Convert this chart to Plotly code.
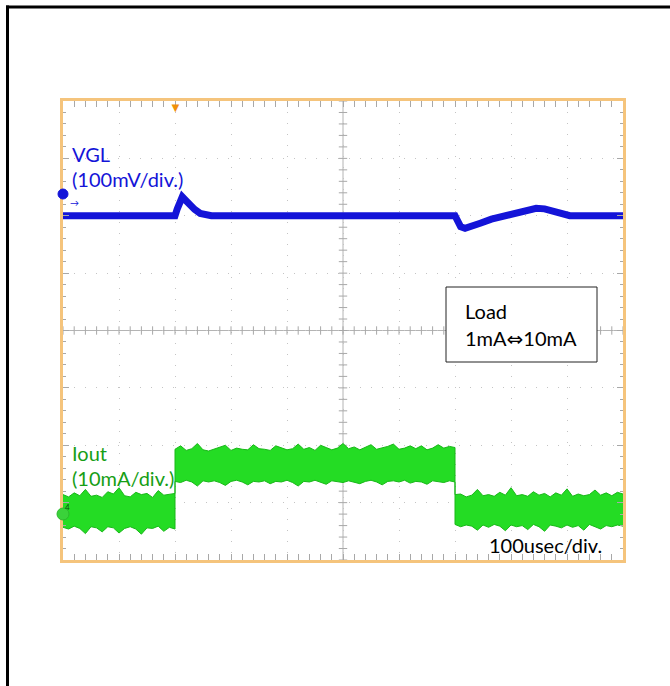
import plotly.graph_objects as go

# ---------------- data ----------------
# time in microseconds (100 usec/div, 10 div)
vgl_t = [0, 200, 204, 208, 213, 218, 225, 235, 245, 255, 265,
         700, 704, 710, 718, 730, 745, 765, 785, 805, 825, 845, 860, 875, 890, 905, 1000]
# VGL deviation from its DC level, mV (100 mV/div)
vgl_mv = [0, 0, 12, 26, 33, 28, 20, 11, 4, 1, 0,
          0, -10, -19, -22, -19, -13, -6, -1, 4, 9, 13, 12, 7, 2, 0, 0]

# Iout noise envelope, mA (10 mA/div)
iout_t = [0, 10, 20, 30, 40, 50, 60, 70, 80, 90, 100, 110, 120, 130, 140, 150, 160, 170, 180, 190, 200,
          200, 210, 220, 230, 240, 250, 260, 270, 280, 290, 300, 310, 320, 330, 340, 350, 360, 370, 380, 390,
          400, 410, 420, 430, 440, 450, 460, 470, 480, 490, 500, 510, 520, 530, 540, 550, 560, 570, 580, 590,
          600, 610, 620, 630, 640, 650, 660, 670, 680, 690, 700,
          700, 710, 720, 730, 740, 750, 760, 770, 780, 790, 800, 810, 820, 830, 840, 850, 860, 870, 880, 890,
          900, 910, 920, 930, 940, 950, 960, 970, 980, 990, 1000]
iout_upper = [3.4, 3.0, 3.7, 3.2, 4.3, 3.1, 3.3, 2.9, 3.9, 3.5, 4.6, 3.2, 3.0, 3.8, 3.4, 3.6, 2.9, 4.1, 3.3, 3.5, 3.6,
              11.3, 11.9, 11.1, 11.4, 12.3, 11.2, 11.0, 11.3, 11.6, 12.0, 11.1, 11.5, 11.3, 11.2, 12.1, 11.4, 11.3,
              11.1, 11.9, 11.5, 11.2, 11.4, 12.2, 11.3, 11.6, 11.1, 12.0, 11.6, 11.2, 11.5, 12.3, 11.4, 11.7, 11.2,
              11.6, 12.1, 11.3, 11.5, 11.8, 12.2, 11.3, 11.5, 11.9, 11.4, 11.9, 11.2, 11.5, 12.1, 11.5, 11.8, 11.6,
              3.4, 3.5, 3.0, 3.3, 4.3, 3.2, 3.4, 3.1, 3.8, 3.3, 4.6, 3.2, 3.4, 3.1, 3.9, 3.3, 3.6, 3.0, 3.7, 3.3,
              4.4, 3.1, 3.5, 3.2, 3.4, 4.2, 3.3, 3.7, 3.2, 3.8, 3.5]
iout_lower = [-2.3, -2.6, -2.1, -2.5, -3.4, -2.2, -2.4, -3.1, -2.2, -2.4, -3.3, -2.5, -2.2, -2.6, -3.5, -2.4, -2.5,
              -2.1, -3.0, -2.3, -2.6,
              5.7, 5.5, 5.9, 5.6, 4.9, 5.8, 5.6, 5.8, 5.5, 5.0, 5.7, 5.9, 5.6, 5.1, 5.7, 5.6, 5.8, 5.3, 5.7, 5.6,
              5.9, 5.5, 4.9, 5.7, 5.6, 5.9, 5.6, 5.2, 5.8, 5.7, 5.5, 5.8, 5.6, 5.3, 5.7, 5.9, 5.6, 5.1, 5.7, 5.8,
              5.6, 5.9, 5.4, 5.7, 5.6, 5.2, 5.8, 5.7, 5.5, 5.8, 5.6,
              -1.8, -2.2, -1.9, -2.1, -2.8, -1.9, -2.3, -1.8, -2.1, -2.9, -1.9, -2.2, -2.0, -2.7, -1.8, -2.2, -3.0,
              -1.9, -2.1, -2.4, -1.9, -2.3, -2.0, -2.8, -1.8, -2.2, -2.6, -2.0, -2.2, -1.9, -2.1]

trigger_time = 200

# ---------------- styling ----------------
FONT = "Lato, 'Noto Sans', sans-serif"
FRAME = "#f5c47c"
GRID = "#c4c4c4"
TICK = "#a8a8a8"
BLUE = "#1414d8"
GREEN_FILL = "#24dc24"
GREEN_LINE = "#18b818"
GREEN_TEXT = "#169e16"
FS = 20

W, H = 670, 686
L, R, T, B = 63, 47, 101, 126
pw, ph = W - L - R, H - T - B


def px_x(x):
    return (x - L) / pw


def px_y(y):
    return (H - B - y) / ph


fig = go.Figure()

# centre-axis minor ticks of the graticule
fig.add_trace(go.Scatter(
    x=[i * 20 for i in range(51)], y=[0] * 51, mode="markers", yaxis="y",
    marker=dict(symbol="line-ns", size=6, line=dict(width=1, color=TICK)),
    hoverinfo="skip"))
fig.add_trace(go.Scatter(
    x=[500] * 41, y=[-4 + i * 0.2 for i in range(41)], mode="markers", yaxis="y",
    marker=dict(symbol="line-ew", size=6, line=dict(width=1, color=TICK)),
    hoverinfo="skip"))

# Iout band
fig.add_trace(go.Scatter(x=iout_t, y=iout_lower, yaxis="y3", mode="lines",
                         line=dict(color=GREEN_LINE, width=1), hoverinfo="skip"))
fig.add_trace(go.Scatter(x=iout_t, y=iout_upper, yaxis="y3", mode="lines",
                         line=dict(color=GREEN_LINE, width=1), fill="tonexty",
                         fillcolor=GREEN_FILL, hoverinfo="skip"))

# VGL trace
fig.add_trace(go.Scatter(x=vgl_t, y=vgl_mv, yaxis="y2", mode="lines",
                         line=dict(color=BLUE, width=7), hoverinfo="skip"))

axis_common = dict(
    showticklabels=False, ticks="inside", ticklen=6, tickcolor=TICK, tickwidth=1,
    showline=True, linecolor=FRAME, linewidth=3, mirror="allticks",
    showgrid=True, gridcolor=GRID, griddash="1px,10px", gridwidth=1, zeroline=False,
    fixedrange=True,
)

fig.update_layout(
    width=W, height=H,
    margin=dict(l=L, r=R, t=T, b=B),
    paper_bgcolor="white", plot_bgcolor="white",
    showlegend=False,
    font=dict(family=FONT, size=FS),
    xaxis=dict(range=[0, 1000], dtick=100, tick0=0,
               minor=dict(dtick=20, ticks="inside", ticklen=3, tickcolor=TICK, showgrid=False),
               **axis_common),
    yaxis=dict(range=[-4, 4], dtick=1, tick0=0,
               minor=dict(dtick=0.2, ticks="inside", ticklen=3, tickcolor=TICK, showgrid=False),
               **axis_common),
    yaxis2=dict(range=[-600, 200], overlaying="y", visible=False),
    yaxis3=dict(range=[-8, 72], overlaying="y", visible=False),
)

shapes = [
    # centre cross of graticule
    dict(type="line", xref="x", yref="y", x0=500, x1=500, y0=-4, y1=4,
         line=dict(color="#b4b4b4", width=1), layer="below"),
    dict(type="line", xref="x", yref="y", x0=0, x1=1000, y0=0, y1=0,
         line=dict(color="#b4b4b4", width=1), layer="below"),
    # load box
    dict(type="rect", xref="paper", yref="paper",
         x0=px_x(446), x1=px_x(597), y0=px_y(362), y1=px_y(287),
         line=dict(color="#222222", width=1), fillcolor="white", layer="above"),
    # channel markers
    dict(type="circle", xref="paper", yref="paper", xsizemode="pixel", ysizemode="pixel",
         xanchor=0, yanchor=px_y(194), x0=-5, x1=5, y0=-5, y1=5,
         fillcolor=BLUE, line=dict(color=BLUE, width=1)),
    dict(type="circle", xref="paper", yref="paper", xsizemode="pixel", ysizemode="pixel",
         xanchor=0, yanchor=px_y(514), x0=-6, x1=6, y0=-6, y1=6,
         fillcolor="#3ad23a", line=dict(color="#2cb82c", width=1)),
    # outer black frame (left and top)
    dict(type="line", xref="paper", yref="paper", x0=px_x(7.5), x1=px_x(7.5),
         y0=px_y(690), y1=px_y(5.5), line=dict(color="black", width=3)),
    dict(type="line", xref="paper", yref="paper", x0=px_x(6), x1=px_x(675),
         y0=px_y(7), y1=px_y(7), line=dict(color="black", width=3)),
]
fig.update_layout(shapes=shapes)

ARROW = "<span style='font-family:DejaVu Sans'>\u21d4</span>"
ann = [
    dict(text="VGL", x=px_x(70), y=px_y(154), color=BLUE),
    dict(text="(100mV/div.)", x=px_x(70), y=px_y(179), color=BLUE),
    dict(text="Iout", x=px_x(70), y=px_y(453), color=GREEN_TEXT),
    dict(text="(10mA/div.)", x=px_x(70), y=px_y(478), color=GREEN_TEXT),
    dict(text="100usec/div.", x=px_x(487), y=px_y(545), color="black"),
    dict(text="Load", x=px_x(463), y=px_y(311), color="black"),
    dict(text="1mA" + ARROW + "10mA", x=px_x(463), y=px_y(338), color="black"),
]
for a in ann:
    fig.add_annotation(text=a["text"], x=a["x"], y=a["y"], xref="paper", yref="paper",
                       xanchor="left", yanchor="middle", showarrow=False,
                       font=dict(family=FONT, size=FS, color=a["color"]))

# small decorations: trigger marker, channel arrow, channel number
fig.add_annotation(text="\u25bc", x=trigger_time, y=1, xref="x", yref="paper",
                   yanchor="top", yshift=4, showarrow=False, font=dict(size=13, color="#f0900a"))
fig.add_annotation(text="\u2192", x=px_x(68), y=px_y(195), xref="paper", yref="paper",
                   xanchor="left", showarrow=False, font=dict(size=9, color=BLUE))
fig.add_annotation(text="4", x=0, y=px_y(514), xref="paper", yref="paper",
                   showarrow=False, font=dict(size=8, color="#114411"))

fig.write_html("out.html", config={"displayModeBar": False},
               post_script="document.body.style.margin='0';")
